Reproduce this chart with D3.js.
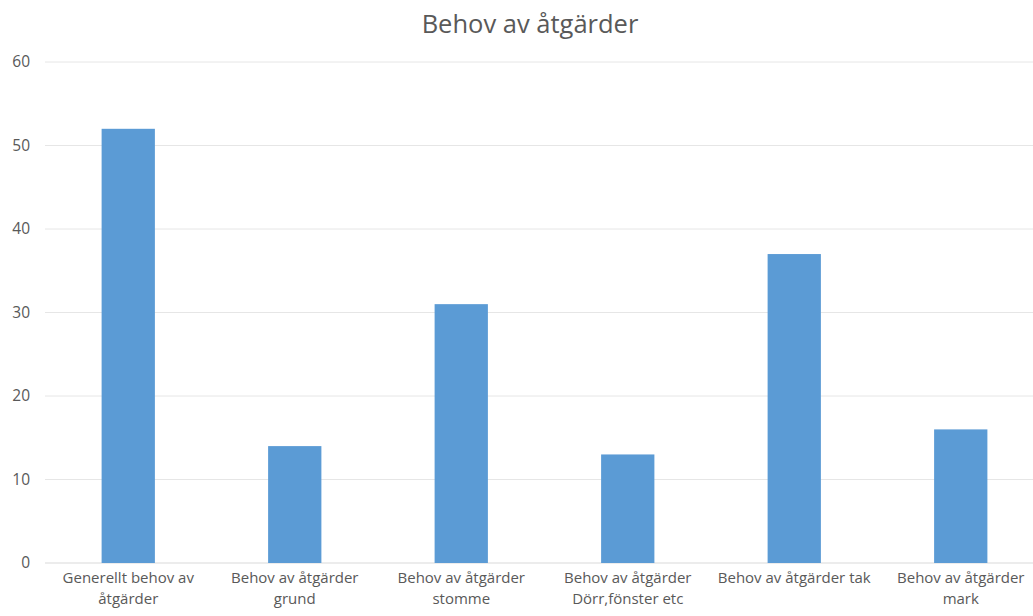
<!DOCTYPE html>
<html>
<head>
<meta charset="utf-8">
<script src="https://cdn.jsdelivr.net/npm/d3@7"></script>
<style>
  body { margin: 0; background: #fff; }
  svg { display: block; font-family: "Open Sans", "Noto Sans", sans-serif; }
</style>
</head>
<body>
<svg id="chart" width="1033" height="616"></svg>
<script>
// Chart data
const categories = [
  "Generellt behov av åtgärder",
  "Behov av åtgärder grund",
  "Behov av åtgärder stomme",
  "Behov av åtgärder Dörr,fönster etc",
  "Behov av åtgärder tak",
  "Behov av åtgärder mark"
];
const values = [52, 14, 31, 13, 37, 16];
const yTicks = [0, 10, 20, 30, 40, 50, 60];
const title = "Behov av åtgärder";

const svg = d3.select("#chart");
const W = 1033, H = 616;
const plot = { left: 45, right: 1044, top: 62, bottom: 563 };
const font = "'Open Sans', 'Noto Sans', sans-serif";

const x = d3.scaleBand().domain(categories).range([plot.left, plot.right]).padding(0);
const y = d3.scaleLinear().domain([0, 60]).range([plot.bottom, plot.top]);
const barW = x.bandwidth() * 0.32;

// Title
svg.append("text")
  .attr("x", 530).attr("y", 33)
  .attr("text-anchor", "middle")
  .attr("fill", "#595959")
  .attr("font-size", 25.5)
  .text(title);

// Gridlines
svg.append("g")
  .selectAll("line")
  .data(yTicks)
  .join("line")
  .attr("x1", plot.left).attr("x2", W)
  .attr("y1", d => y(d)).attr("y2", d => y(d))
  .attr("stroke", d => d === 0 ? "#d9d9d9" : "#e6e6e6")
  .attr("stroke-width", 1);

// Y axis labels
const yAxis = d3.axisLeft(y).tickValues(yTicks).tickSize(0).tickPadding(0);
const gy = svg.append("g").attr("transform", `translate(${30},0)`).call(yAxis);
gy.select(".domain").remove();
gy.selectAll("text")
  .attr("fill", "#595959")
  .attr("font-size", 15.5)
  .attr("font-family", font);

// Bars
svg.append("g")
  .selectAll("rect")
  .data(categories.map((c, i) => ({ c, v: values[i] })))
  .join("rect")
  .attr("x", d => x(d.c) + x.bandwidth() / 2 - barW / 2)
  .attr("width", barW)
  .attr("y", d => y(d.v))
  .attr("height", d => y(0) - y(d.v))
  .attr("fill", "#5b9bd5");

// Category labels, word-wrapped within the band
const xAxis = d3.axisBottom(x).tickSize(0).tickPadding(0);
const gx = svg.append("g").attr("transform", `translate(0,${plot.bottom})`).call(xAxis);
gx.select(".domain").remove();
gx.selectAll("text")
  .attr("fill", "#595959")
  .attr("font-size", 15)
  .attr("font-family", font)
  .each(function(d) {
    const t = d3.select(this);
    const words = d.split(" ");
    const maxW = x.bandwidth();
    t.text(null);
    let lines = [], cur = [];
    const probe = t.append("tspan");
    words.forEach(w => {
      const test = cur.concat(w).join(" ");
      probe.text(test);
      if (probe.node().getComputedTextLength() > maxW && cur.length) {
        lines.push(cur.join(" "));
        cur = [w];
      } else cur.push(w);
    });
    lines.push(cur.join(" "));
    probe.remove();
    t.attr("y", 0).attr("dy", null);
    lines.forEach((l, i) => {
      t.append("tspan").attr("x", 0).attr("y", 20 + i * 20.5).text(l);
    });
  });
</script>
</body>
</html>
